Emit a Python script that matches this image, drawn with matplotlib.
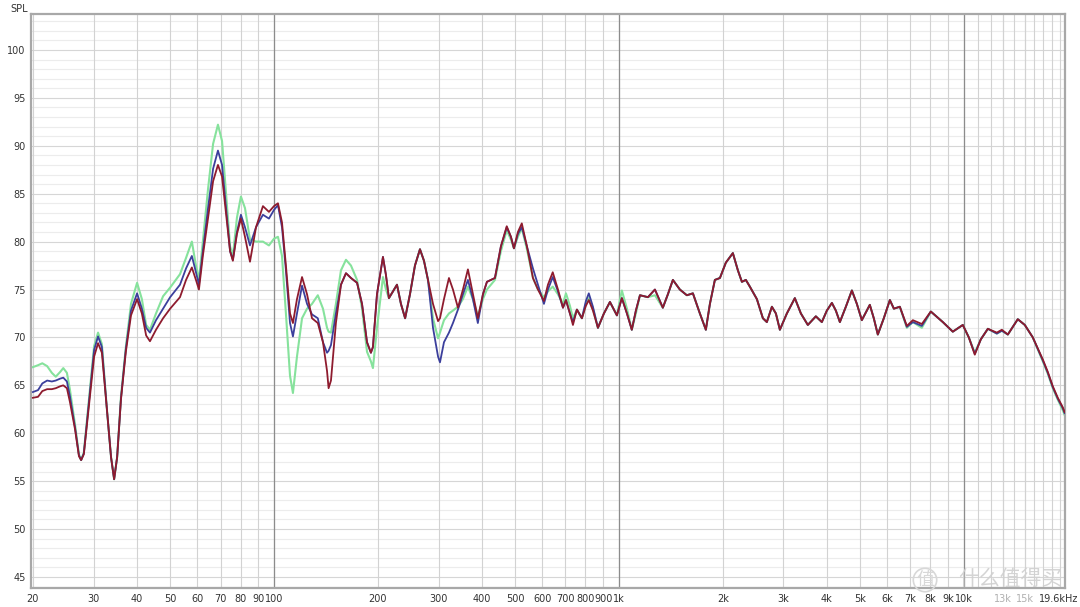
import matplotlib
matplotlib.use("Agg")
import matplotlib.pyplot as plt
from matplotlib.ticker import FixedLocator, NullFormatter
from matplotlib.transforms import ScaledTranslation
import numpy as np

# frequency response (Hz / dB SPL)
freq = [20.0, 20.7, 21.3, 22.0, 22.7, 23.3, 24.0, 24.5, 25.1, 25.6,
        26.5, 27.2, 27.6, 28.1, 29.1, 30.1, 30.9, 31.7, 32.8, 33.7,
        34.4, 35.1, 36.0, 37.2, 38.5, 40.1, 41.4, 42.6, 43.7, 45.5,
        47.7, 50.0, 53.4, 55.6, 57.8, 59.4, 60.6, 62.2, 64.4, 66.6,
        68.8, 70.7, 72.6, 74.6, 76.0, 78.1, 80.2, 82.4, 85.2, 88.7,
        92.9, 96.7, 100, 102.7, 105.5, 108.3, 111.3, 113.5, 116.6, 120.6,
        124.7, 128.9, 134, 138.7, 142.5, 144, 146.3, 151.2, 156.4, 161.7,
        167.2, 174.1, 180, 186.1, 191, 193.6, 198.9, 207, 211.2, 215.4,
        221.3, 227.3, 233.4, 240, 247.9, 256.3, 265, 272.2, 279.6, 289.1,
        299, 302.9, 311.1, 321.6, 330.3, 341.5, 353.1, 365, 377.4, 390,
        403.5, 414.4, 437.1, 454.9, 473, 486.4, 496.2, 509.6, 523, 541.2,
        563.4, 582.5, 606.3, 622.7, 643, 665.8, 688.4, 702.3, 721.1, 735.8,
        755.6, 781.2, 802.3, 818, 840.9, 869.4, 904.9, 942, 986.7, 1020,
        1055, 1090, 1120, 1151, 1214, 1272, 1341, 1387, 1434, 1502,
        1574, 1639, 1717, 1787, 1836, 1898, 1963, 2042, 2140, 2213,
        2273, 2334, 2397, 2512, 2615, 2685, 2777, 2852, 2929, 3069,
        3237, 3370, 3530, 3724, 3876, 4008, 4145, 4256, 4372, 4550,
        4737, 4897, 5062, 5199, 5339, 5483, 5632, 5862, 6104, 6269,
        6524, 6836, 7116, 7556, 8023, 8693, 9292, 9933, 10340, 10760,
        11202, 11741, 12467, 12889, 13416, 14337, 15025, 15849, 16943, 17520,
        18113, 18729, 19364, 19600]

spl_red = [63.7, 63.8, 64.4, 64.6, 64.6, 64.7, 64.9, 65.0, 64.7, 63.3,
           60.4, 57.6, 57.2, 57.8, 63.0, 68.0, 69.4, 68.4, 62.4, 57.5,
           55.2, 57.5, 63.5, 68.5, 72.3, 74.0, 72.5, 70.2, 69.6, 70.8,
           72.0, 73.0, 74.2, 76.0, 77.3, 76.0, 75.0, 78.5, 82.5, 86.3,
           88.0, 86.8, 83.0, 79.0, 78.0, 80.8, 82.4, 80.5, 77.9, 81.5,
           83.7, 83.1, 83.7, 84.0, 82.0, 77.5, 72.5, 71.5, 74.0, 76.3,
           74.5, 72.0, 71.5, 69.5, 66.5, 64.7, 65.5, 71.5, 75.5, 76.7,
           76.2, 75.7, 73.5, 69.5, 68.4, 69.0, 74.5, 78.4, 76.5, 74.1,
           74.8, 75.5, 73.5, 72.0, 74.5, 77.5, 79.2, 78.0, 76.0, 73.5,
           71.7, 72.0, 74.0, 76.2, 75.0, 73.1, 75.0, 77.1, 74.5, 72.0,
           74.5, 75.8, 76.2, 79.5, 81.6, 80.5, 79.3, 81.0, 81.9, 79.5,
           76.2, 75.0, 73.8, 75.5, 76.8, 75.0, 73.1, 73.9, 72.5, 71.3,
           72.9, 72.0, 73.3, 73.9, 72.8, 71.0, 72.5, 73.7, 72.3, 74.1,
           72.5, 70.8, 72.8, 74.4, 74.2, 75.0, 73.1, 74.5, 76.0, 75.0,
           74.4, 74.6, 72.5, 70.8, 73.5, 76.0, 76.2, 77.8, 78.8, 77.0,
           75.8, 76.0, 75.3, 74.0, 72.0, 71.6, 73.2, 72.5, 70.8, 72.5,
           74.1, 72.5, 71.3, 72.2, 71.6, 72.8, 73.6, 72.8, 71.6, 73.2,
           74.9, 73.5, 71.8, 72.6, 73.4, 72.0, 70.3, 72.0, 73.9, 73.0,
           73.2, 71.2, 71.8, 71.4, 72.7, 71.6, 70.6, 71.3, 70.0, 68.2,
           69.8, 70.9, 70.5, 70.8, 70.3, 71.9, 71.3, 70.0, 67.7, 66.4,
           64.9, 63.7, 62.7, 62.2]

spl_blue = [64.3, 64.5, 65.2, 65.5, 65.4, 65.5, 65.7, 65.8, 65.4, 63.9,
            60.6, 57.7, 57.2, 57.9, 63.4, 68.7, 70.1, 69.0, 62.4, 57.5,
            55.2, 57.5, 63.6, 68.8, 72.8, 74.6, 73.0, 71.0, 70.5, 71.8,
            73.0, 74.2, 75.5, 77.2, 78.5, 76.8, 75.5, 79.0, 83.5, 87.6,
            89.5, 88.0, 83.5, 79.0, 78.1, 81.0, 82.8, 81.5, 79.6, 81.5,
            82.8, 82.4, 83.3, 83.8, 81.5, 77.0, 71.5, 70.1, 72.5, 75.4,
            73.5, 72.4, 72.0, 69.5, 68.4, 68.6, 69.2, 72.5, 75.5, 76.7,
            76.2, 75.7, 73.5, 69.5, 68.4, 69.0, 74.5, 78.4, 76.5, 74.1,
            74.8, 75.5, 73.5, 72.0, 74.5, 77.5, 79.2, 78.0, 76.0, 71.0,
            68.0, 67.4, 69.5, 70.5, 71.5, 72.9, 74.5, 76.0, 74.0, 71.5,
            74.5, 75.8, 76.2, 79.5, 81.5, 80.5, 79.3, 80.8, 81.5, 79.5,
            77.2, 75.5, 73.5, 75.0, 76.3, 74.8, 73.1, 73.9, 72.5, 71.6,
            72.9, 72.0, 73.8, 74.6, 73.2, 71.0, 72.5, 73.7, 72.3, 74.1,
            72.5, 70.8, 72.8, 74.4, 74.2, 75.0, 73.1, 74.5, 76.0, 75.0,
            74.4, 74.6, 72.5, 70.8, 73.5, 76.0, 76.2, 77.8, 78.8, 77.0,
            75.8, 76.0, 75.3, 74.0, 72.0, 71.6, 73.2, 72.5, 70.8, 72.5,
            74.1, 72.5, 71.3, 72.2, 71.6, 72.8, 73.6, 72.8, 71.6, 73.2,
            74.9, 73.5, 71.8, 72.6, 73.4, 72.0, 70.3, 72.0, 73.9, 73.0,
            73.2, 71.1, 71.6, 71.2, 72.7, 71.6, 70.6, 71.3, 70.0, 68.3,
            69.8, 70.9, 70.4, 70.7, 70.3, 71.9, 71.3, 70.0, 67.6, 66.3,
            64.8, 63.6, 62.6, 62.1]

spl_green = [66.9, 67.1, 67.3, 67.0, 66.3, 65.9, 66.4, 66.8, 66.3, 64.6,
             60.9, 57.8, 57.2, 58.0, 63.7, 69.1, 70.5, 69.3, 62.4, 57.5,
             55.2, 57.5, 63.8, 69.0, 73.5, 75.7, 74.0, 71.3, 70.8, 72.5,
             74.3, 75.2, 76.6, 78.3, 80.0, 77.5, 76.0, 80.0, 85.5, 90.2,
             92.2, 90.5, 85.0, 79.5, 78.5, 82.5, 84.7, 83.5, 80.2, 80.0,
             80.0, 79.6, 80.3, 80.5, 78.5, 72.5, 66.0, 64.2, 68.0, 72.0,
             73.0, 73.5, 74.4, 73.0, 71.0, 70.6, 70.5, 73.5, 77.0, 78.1,
             77.5, 76.0, 73.0, 68.5, 67.5, 66.8, 71.0, 76.3, 75.0, 74.1,
             74.8, 75.5, 73.5, 72.0, 74.5, 77.5, 79.2, 78.0, 76.0, 72.0,
             69.9, 70.5, 71.8, 72.5, 72.8, 73.2, 74.0, 75.3, 74.0, 72.2,
             74.0, 75.0, 76.0, 79.0, 81.2, 80.2, 79.3, 80.5, 81.4, 79.2,
             76.2, 75.0, 74.2, 74.8, 75.3, 74.5, 73.5, 74.6, 73.3, 72.0,
             72.9, 72.0, 73.5, 74.1, 73.0, 71.0, 72.5, 73.7, 72.3, 74.9,
             73.0, 70.8, 72.5, 74.4, 74.2, 74.4, 73.1, 74.5, 76.0, 75.0,
             74.4, 74.6, 72.5, 70.8, 73.5, 76.0, 76.2, 77.8, 78.8, 77.0,
             75.8, 76.0, 75.3, 74.0, 72.0, 71.6, 73.2, 72.5, 70.8, 72.5,
             74.1, 72.5, 71.3, 72.2, 71.6, 72.8, 73.6, 72.8, 71.6, 73.2,
             74.9, 73.5, 71.8, 72.6, 73.4, 72.0, 70.3, 72.0, 73.9, 73.0,
             73.2, 71.0, 71.6, 71.0, 72.7, 71.6, 70.6, 71.3, 70.0, 68.4,
             69.8, 70.9, 70.4, 70.7, 70.3, 71.9, 71.3, 70.0, 67.5, 66.2,
             64.7, 63.5, 62.4, 61.9]

major_ticks = [20, 30, 40, 50, 60, 70, 80, 90, 100, 200, 300, 400, 500, 600,
               700, 800, 900, 1000, 2000, 3000, 4000, 5000, 6000, 7000, 8000,
               9000, 10000, 13000, 15000, 19600]
major_labels = ["20", "30", "40", "50", "60", "70", "80", "90", "100", "200",
                "300", "400", "500", "600", "700", "800", "900", "1k", "2k",
                "3k", "4k", "5k", "6k", "7k", "8k", "9k", "10k", "13k", "15k",
                "19.6kHz"]
extra_lines = [11000, 12000, 13000, 14000, 15000, 16000, 17000, 18000, 19000]
decades = [100, 1000, 10000]
y_labels = [45, 50, 55, 60, 65, 70, 75, 80, 85, 90, 95, 100]

plt.rcParams['font.family'] = ['DejaVu Sans', 'Noto Sans CJK SC']

fig = plt.figure(figsize=(10.8, 6.07), dpi=100)
ax = fig.add_axes([31 / 1080, 1 - 588 / 607, 1034 / 1080, 574 / 607])
ax.set_xscale("log")
ax.set_xlim(19.75, 19650)
ax.set_ylim(43.85, 103.75)

# grid like REW
for db in range(44, 104):
    c = "#d6d6d6" if db % 5 == 0 else "#ececec"
    ax.axhline(db, color=c, lw=0.8, zorder=0)
for f in major_ticks[:-1] + extra_lines:
    ax.axvline(f, color="#d2d2d2", lw=0.8, zorder=0)
for f in decades:
    ax.axvline(f, color="#8c8c8c", lw=0.9, zorder=0)

ax.plot(freq, spl_green, color="#86e29c", lw=1.5, zorder=2)
ax.plot(freq, spl_blue, color="#3b3f9c", lw=1.3, zorder=3)
ax.plot(freq, spl_red, color="#8e1b2e", lw=1.3, zorder=4)

ax.xaxis.set_major_locator(FixedLocator(major_ticks))
ax.set_xticklabels(major_labels)
ax.xaxis.set_minor_formatter(NullFormatter())
ax.xaxis.set_minor_locator(FixedLocator([]))
ax.set_yticks(y_labels)
ax.tick_params(axis="both", length=0, labelsize=7, colors="#333333", pad=4)
for lbl in ax.get_xticklabels():
    if lbl.get_text() in ("13k", "15k"):
        lbl.set_color("#b0b0b0")
    if lbl.get_text() == "19.6kHz":
        lbl.set_horizontalalignment("right")
        lbl.set_transform(lbl.get_transform() + ScaledTranslation(14 / 100, 0, fig.dpi_scale_trans))

for s in ax.spines.values():
    s.set_color("#a8a8a8")
    s.set_linewidth(1.6)

fig.text(10 / 1080, 1 - 9 / 607, "SPL", fontsize=7, color="#333333", va="center")

# watermark
fig.text(925 / 1080, 1 - 580 / 607, "值", fontsize=13, color="#d8d8d8", ha="center",
         va="center", bbox=dict(boxstyle="circle,pad=0.15", fc="none", ec="#d8d8d8", lw=1.2))
fig.text(1010 / 1080, 1 - 579 / 607, "什么值得买", fontsize=15, color="#d0d0d0",
         ha="center", va="center", alpha=0.9)

fig.savefig("out.png", dpi=100)
